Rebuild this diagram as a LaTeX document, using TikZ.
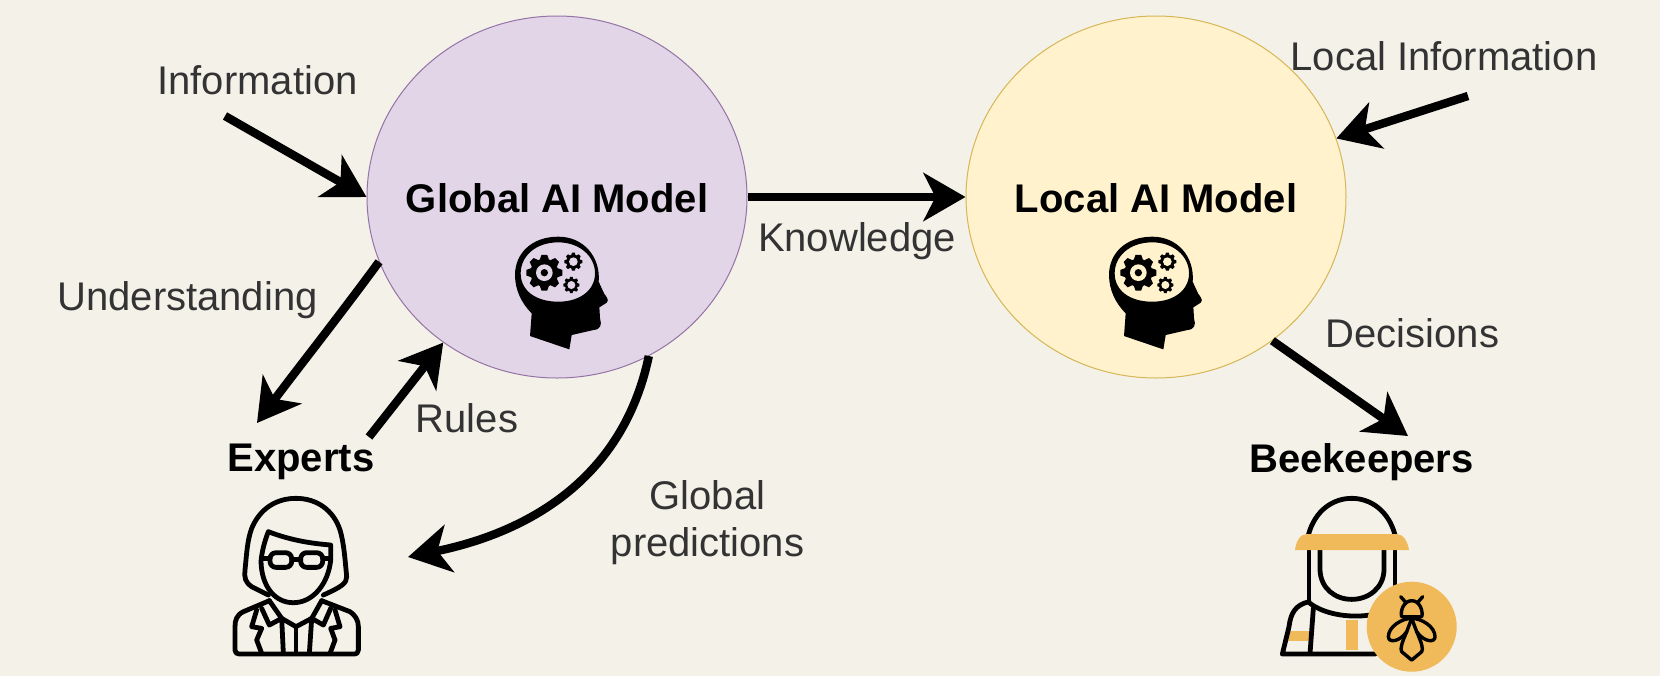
\documentclass[tikz,border=0pt]{standalone}
\usepackage{fontspec}
\setmainfont{Liberation Sans}
\usetikzlibrary{arrows.meta,shapes.geometric}
\definecolor{bgc}{HTML}{F4F1E9}
\definecolor{txtc}{HTML}{333333}
\definecolor{hony}{HTML}{F0B95A}
\definecolor{purp}{HTML}{E1D5E7}
\definecolor{purpl}{HTML}{9673A6}
\definecolor{yell}{HTML}{FFF2CC}
\definecolor{yelll}{HTML}{D6B656}
\tikzset{
 x=0.5pt,y=-0.5pt,
 lbl/.style={font=\fontsize{20pt}{24pt}\selectfont,text=txtc,inner sep=0pt,anchor=center},
 blbl/.style={font=\fontsize{20pt}{24pt}\selectfont\bfseries,text=black,inner sep=0pt,anchor=center},
 model/.style={ellipse,draw=#1,line width=0.5pt,minimum width=190pt,minimum height=181pt,inner sep=0pt},
 flow/.style={line width=4.2pt,draw=black,-{Stealth[length=21pt,width=24pt,inset=6pt]},line join=round},
 ico/.style={line width=2.4pt,draw=black,line join=round,line cap=round},
 beeico/.style={line width=1.7pt,draw=black,line join=round,line cap=round},
}
\newcommand{\gearshape}[5]{% x y outer hole colour
 \fill[black] (#1,#2) circle[radius=#3];
 \foreach \a in {0,45,...,315}{
  \fill[black,shift={(#1,#2)},rotate=\a] (#3-3,-0.33*#3) -- (#3*1.28,-0.2*#3) -- (#3*1.28,0.2*#3) -- (#3-3,0.33*#3) -- cycle;}
 \fill[#5] (#1,#2) circle[radius=#4];
}
\newcommand{\headicon}[3]{%
\begin{scope}[shift={(#1,#2)},x=0.1667pt,y=-0.1667pt]
 \fill[black,even odd rule]
  (235,80) .. controls (155,80) and (105,130) .. (105,195)
  .. controls (105,240) and (125,280) .. (155,310)
  -- (150,378) -- (268,418) -- (275,375) -- (340,360)
  .. controls (362,358) and (366,345) .. (360,325) -- (358,292) -- (380,278)
  .. controls (388,270) and (380,262) .. (372,250) -- (356,215)
  .. controls (362,140) and (310,80) .. (235,80) -- cycle
  (235,97) .. controls (165,97) and (122,140) .. (122,190)
  .. controls (122,240) and (165,275) .. (235,275)
  .. controls (300,275) and (345,240) .. (345,190)
  .. controls (345,140) and (300,97) .. (235,97) -- cycle;
 \gearshape{193}{188}{42}{25}{#3}
 \fill[black] (193,188) circle[radius=11];
 \gearshape{280}{155}{21}{13}{#3}
 \gearshape{274}{225}{19}{12}{#3}
\end{scope}}
\begin{document}
\begin{tikzpicture}
\useasboundingbox (0,0) rectangle (1660,676);
\fill[bgc] (0,0) rectangle (1660,676);

\node[model=purpl,fill=purp] (glob) at (557,197) {};
\node[model=yelll,fill=yell] (loc) at (1156,197) {};

\node[blbl] (globt) at (557,198) {Global AI Model};
\node[blbl] (loct) at (1156,198) {Local AI Model};
\node[lbl] (info) at (257.5,80) {Information};
\node[lbl] (linfo) at (1444,56) {Local Information};
\node[lbl] (know) at (857,241) {Knowledge};
\node[lbl] (under) at (187.5,300) {Understanding};
\node[lbl] (rules) at (467,418) {Rules};
\node[blbl] (exp) at (301,462) {Experts};
\node[lbl] (dec) at (1412.5,333) {Decisions};
\node[blbl] (bee) at (1361.5,462) {Beekeepers};
\node[lbl] (gp1) at (707.5,495) {Global};
\node[lbl] (gp2) at (707.5,546) {predictions};

\headicon{480}{210}{purp}
\headicon{1074}{210}{yell}

\coordinate (a1) at (225,116);
\coordinate (a2) at (1468,96);
\coordinate (a3) at (257,423);
\coordinate (a4) at (369,437);
\coordinate (a5) at (408,557);
\coordinate (a6) at (1408,436);

\draw[flow] (a1) -- (glob.west);
\draw[flow] (a2) -- (loc.18);
\draw[flow] (glob.east) -- (loc.west);
\draw[flow] (glob.200.6) .. controls (340,315) and (295,372) .. (a3);
\draw[flow] (a4) -- (glob.232.8);
\draw[flow] (glob.-60.5) .. controls (625,470) and (540,530) .. (a5);
\draw[flow] (loc.-51.7) -- (a6);

% expert
\begin{scope}[shift={(210,480)},x=0.1667pt,y=-0.1667pt]
 \draw[ico] (175,345) -- (125,320) .. controls (105,305) and (103,295) .. (105,270)
  .. controls (110,220) and (112,180) .. (125,145)
  .. controls (150,85) and (200,55) .. (258,55)
  .. controls (320,55) and (370,90) .. (390,150)
  .. controls (402,190) and (405,240) .. (410,290)
  .. controls (410,310) and (395,320) .. (340,345);
 \draw[ico] (175,155) .. controls (165,180) and (155,215) .. (153,245)
  .. controls (155,320) and (195,368) .. (250,368)
  .. controls (310,368) and (355,310) .. (362,240) -- (362,195)
  .. controls (300,190) and (240,180) .. (175,155) -- cycle;
 \draw[ico,rounded corners=3pt] (180,218) rectangle (245,262);
 \draw[ico,rounded corners=3pt] (272,218) rectangle (338,262);
 \draw[ico] (245,238) -- (272,238);
 \draw[ico] (155,235) -- (180,235);
 \draw[ico] (338,235) -- (360,235);
 \draw[ico] (178,362) -- (100,395) .. controls (80,405) and (75,420) .. (75,440)
  -- (75,510) .. controls (75,518) and (80,522) .. (88,522)
  -- (430,522) .. controls (440,522) and (445,518) .. (445,510)
  -- (445,440) .. controls (445,420) and (435,405) .. (420,395) -- (335,362);
 \draw[ico] (140,390) -- (125,440) -- (155,445) -- (140,480) -- (155,520);
 \draw[ico] (375,390) -- (390,440) -- (362,445) -- (375,480) -- (360,520);
 \draw[ico] (178,362) -- (215,415) -- (178,435) -- (155,385);
 \draw[ico] (335,362) -- (305,415) -- (340,435) -- (362,385);
 \draw[ico] (215,415) -- (258,440) -- (305,415);
 \draw[ico] (215,415) -- (220,520);
 \draw[ico] (258,440) -- (258,520);
 \draw[ico] (305,415) -- (298,520);
\end{scope}

% beekeeper
\begin{scope}[shift={(1260,480)},x=0.1667pt,y=-0.1667pt]
 \fill[hony] (85,452) rectangle (150,484);
 \fill[hony] (258,420) rectangle (295,510);
 \draw[ico] (145,165) .. controls (165,90) and (220,55) .. (275,55)
  .. controls (330,55) and (385,90) .. (405,165);
 \draw[ico] (147,210) -- (147,365);
 \draw[ico] (405,210) -- (405,325);
 \draw[ico] (180,210) -- (180,270) .. controls (182,325) and (225,358) .. (275,358)
  .. controls (325,358) and (370,325) .. (372,270) -- (372,210);
 \draw[ico] (147,365) .. controls (105,375) and (92,400) .. (87,440) -- (67,522) -- (345,522);
 \draw[ico] (160,385) -- (150,520);
 \draw[ico] (150,370) .. controls (190,400) and (260,415) .. (330,405);
 \fill[hony] (105,210) .. controls (108,185) and (120,162) .. (140,162)
  -- (410,162) .. controls (430,162) and (443,185) .. (447,210) -- cycle;
 \fill[hony] (455,440) circle[radius=135];
 \draw[beeico] (422,350) -- (437,367);
 \draw[beeico] (488,350) -- (473,367);
 \draw[beeico] (455,362) .. controls (430,362) and (420,395) .. (425,410) -- (485,410) .. controls (490,395) and (480,362) .. (455,362) -- cycle;
 \draw[beeico] (455,415) .. controls (425,415) and (385,440) .. (385,470) .. controls (385,490) and (420,485) .. (440,455) -- (455,415);
 \draw[beeico] (455,415) .. controls (485,415) and (525,440) .. (525,470) .. controls (525,490) and (490,485) .. (470,455) -- (455,415);
 \draw[beeico] (440,455) .. controls (425,490) and (420,505) .. (425,515) -- (455,540) -- (485,515) .. controls (490,505) and (485,490) .. (470,455);
\end{scope}
\end{tikzpicture}
\end{document}
